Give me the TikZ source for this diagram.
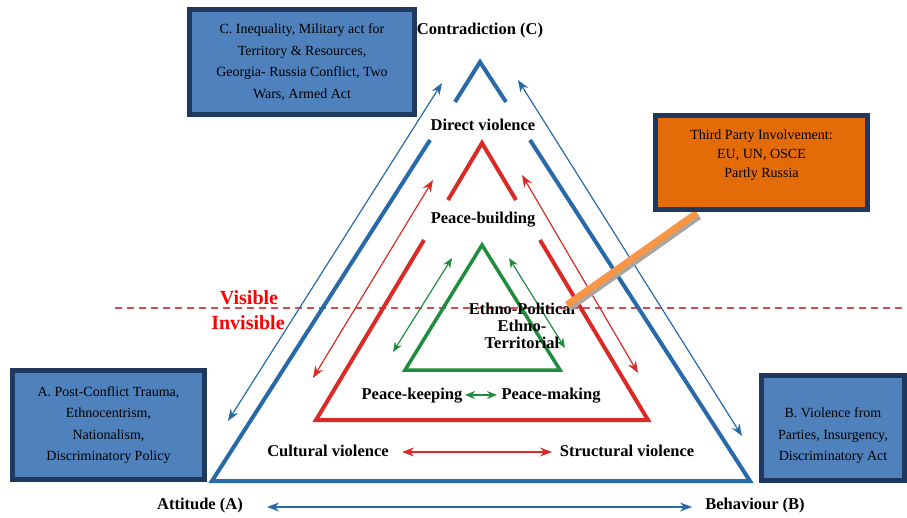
\documentclass[tikz,border=0pt]{standalone}
\usepackage{fontspec}
\setmainfont{Liberation Serif}
\usetikzlibrary{arrows.meta,positioning}

\definecolor{triblue}{RGB}{40,105,170}
\definecolor{trired}{RGB}{218,42,38}
\definecolor{trigreen}{RGB}{32,140,62}
\definecolor{boxfill}{RGB}{79,129,189}
\definecolor{boxedge}{RGB}{31,56,96}
\definecolor{partyfill}{RGB}{227,108,9}
\definecolor{stickorange}{RGB}{247,150,70}
\definecolor{dashred}{RGB}{208,78,78}

\tikzset{
  infobox/.style={draw=boxedge, line width=5pt, fill=boxfill, inner sep=0pt},
  boxtext/.style={align=center, font=\fontsize{14}{21.5}\selectfont},
  tag/.style={font=\bfseries\fontsize{16.5}{17}\selectfont, inner sep=1pt, align=center},
  sidebig/.style={line width=4pt, line cap=butt, line join=miter},
  twoway/.style={line width=1.2pt, {Stealth[length=12pt,width=9pt]}-{Stealth[length=12pt,width=9pt]}},
  twowaysmall/.style={line width=1.2pt, {Stealth[length=10pt,width=8pt]}-{Stealth[length=10pt,width=8pt]}}
}

\begin{document}
\begin{tikzpicture}[x=1pt, y=-1pt]
  \useasboundingbox (0,0) rectangle (907,518);

  % visible / invisible border
  \coordinate (dashL) at (115,308);
  \coordinate (dashR) at (907,308);
  \draw[dashred, line width=1.3pt, dash pattern=on 7pt off 5pt] (dashL) -- (dashR);
  \node[font=\bfseries\fontsize{20}{22}\selectfont, text=red, inner sep=0pt] (visible) at (249,298) {Visible};
  \node[font=\bfseries\fontsize{20}{22}\selectfont, text=red, inner sep=0pt] (invisible) at (248,323) {Invisible};

  % outer triangle (conflict)
  \coordinate (bTop) at (480,62);
  \coordinate (bTopL) at (455,102);
  \coordinate (bTopR) at (506,102);
  \coordinate (bMidL) at (430,140);
  \coordinate (bMidR) at (530,140);
  \coordinate (bA) at (212,481);
  \coordinate (bB) at (750,481);
  \draw[triblue, sidebig] (bTopL) -- (bTop) -- (bTopR);
  \draw[triblue, sidebig] (bMidL) -- (bA) -- (bB) -- (bMidR);

  % middle triangle (peace-building)
  \coordinate (rTop) at (482,143);
  \coordinate (rTopL) at (448,200);
  \coordinate (rTopR) at (516,200);
  \coordinate (rMidL) at (424,240);
  \coordinate (rMidR) at (540,240);
  \coordinate (rA) at (316,420);
  \coordinate (rB) at (648,420);
  \draw[trired, sidebig] (rTopL) -- (rTop) -- (rTopR);
  \draw[trired, sidebig] (rMidL) -- (rA) -- (rB) -- (rMidR);

  % inner triangle
  \coordinate (gTop) at (482,245);
  \coordinate (gA) at (405,370);
  \coordinate (gB) at (560,370);
  \draw[trigreen, line width=3.5pt, line join=miter] (gTop) -- (gA) -- (gB) -- cycle;

  % two-way arrows
  \coordinate (bl1) at (228,421);
  \coordinate (bl2) at (442,83);
  \coordinate (br1) at (518,80);
  \coordinate (br2) at (742,436);
  \coordinate (bb1) at (267,507);
  \coordinate (bb2) at (692,507);
  \draw[triblue, twoway] (bl1) -- (bl2);
  \draw[triblue, twoway] (br1) -- (br2);
  \draw[triblue, twoway] (bb1) -- (bb2);

  \coordinate (rl1) at (313,378);
  \coordinate (rl2) at (433,180);
  \coordinate (rr1) at (522,175);
  \coordinate (rr2) at (638,373);
  \coordinate (rb1) at (402,452);
  \coordinate (rb2) at (552,452);
  \draw[trired, twoway] (rl1) -- (rl2);
  \draw[trired, twoway] (rr1) -- (rr2);
  \draw[trired, twoway] (rb1) -- (rb2);

  \coordinate (gl1) at (393,352);
  \coordinate (gl2) at (452,258);
  \coordinate (gr1) at (509,258);
  \coordinate (gr2) at (565,348);
  \coordinate (gb1) at (465,395);
  \coordinate (gb2) at (497,395);
  \draw[trigreen, twowaysmall] (gl1) -- (gl2);
  \draw[trigreen, twowaysmall] (gr1) -- (gr2);
  \draw[trigreen, twowaysmall] (gb1) -- (gb2);

  % corner and level labels
  \node[tag] (contradiction) at (480,31) {Contradiction (C)};
  \node[tag] (attitude) at (200,506) {Attitude (A)};
  \node[tag] (behaviour) at (755,506) {Behaviour (B)};
  \node[tag] (direct) at (483,125) {Direct violence};
  \node[tag] (building) at (483,220) {Peace-building};
  \node[tag] (cultural) at (328,451) {Cultural violence};
  \node[tag] (structural) at (627,451) {Structural violence};
  \node[tag] (keeping) at (412,396) {Peace-keeping};
  \node[tag] (making) at (551,396) {Peace-making};
  \node[tag] (ethno) at (522,326) {Ethno-Political\\Ethno-\\Territorial};

  % third party pointer
  \coordinate (stickLow) at (567,305);
  \coordinate (stickHigh) at (697,213);
  \draw[gray!70, line width=7pt] ([shift={(2,3)}]stickLow) -- ([shift={(2,3)}]stickHigh);
  \draw[stickorange, line width=7pt] (stickLow) -- (stickHigh);

  % info boxes
  \node[infobox, minimum width=225pt, minimum height=105pt] (boxC) at (302,62) {};
  \node[boxtext] (textC) at (boxC.center) {C. Inequality, Military act for\\Territory \& Resources,\\Georgia- Russia Conflict, Two\\Wars, Armed Act};
  \node[infobox, minimum width=192pt, minimum height=109pt] (boxA) at (108.5,425) {};
  \node[boxtext] (textA) at (boxA.center) {A. Post-Conflict Trauma,\\Ethnocentrism,\\Nationalism,\\Discriminatory Policy};
  \node[infobox, minimum width=143pt, minimum height=105pt] (boxB) at (833,428) {};
  \node[boxtext] (textB) at ([yshift=-8pt]boxB.center) {B. Violence from\\Parties, Insurgency,\\Discriminatory Act};
  \node[infobox, fill=partyfill, minimum width=212pt, minimum height=94pt] (boxParty) at (761.5,162.5) {};
  \node[boxtext, font=\fontsize{14}{19}\selectfont] (textParty) at ([yshift=7pt]boxParty.center) {Third Party Involvement:\\EU, UN, OSCE\\Partly Russia};
\end{tikzpicture}
\end{document}
